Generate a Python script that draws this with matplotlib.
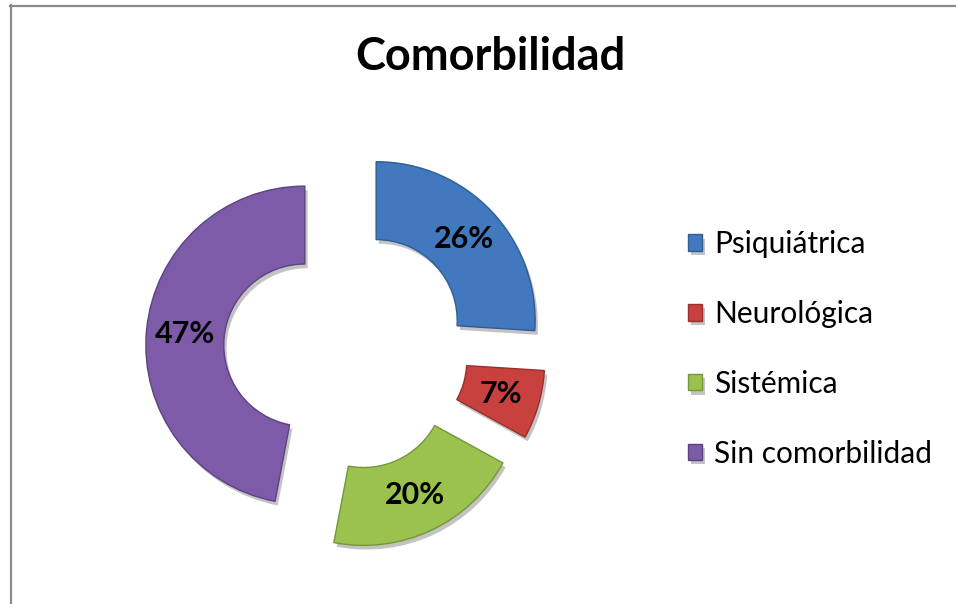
import matplotlib.pyplot as plt
import matplotlib.patheffects as pe
from matplotlib.lines import Line2D

categories = ["Psiquiátrica", "Neurológica", "Sistémica", "Sin comorbilidad"]
values = [26, 7, 20, 47]
colors = ["#4278bd", "#c8413e", "#9bc24f", "#7d5ba8"]
edges = ["#2f5d96", "#98302d", "#76963a", "#5d4282"]

plt.rcParams['font.family'] = ['Lato', 'DejaVu Sans']

W, H = 956, 604
fig = plt.figure(figsize=(W / 100, H / 100), dpi=100)

# pie centre and radius in pixels
cx, cy, R = 346, 349, 159
ax = fig.add_axes([0, 0, 1, 1])

wedges, texts, autotexts = ax.pie(
    values, colors=colors, startangle=90, counterclock=False,
    explode=[0.26] * len(values), radius=1,
    autopct='%1.0f%%', pctdistance=0.755,
    wedgeprops=dict(width=0.49, linewidth=1.0),
    textprops=dict(fontsize=22, fontweight='bold', color='black'))

for w, ec in zip(wedges, edges):
    w.set_edgecolor(ec)
    w.set_path_effects([pe.SimplePatchShadow(offset=(2, -3), alpha=0.35, shadow_rgbFace='#555555'),
                        pe.Normal()])

ax.set_xlim(-cx / R, (W - cx) / R)
ax.set_ylim(-(H - cy) / R, cy / R)
ax.axis('off')

fig.text(490 / W, 1 - 57 / H, "Comorbilidad", ha='center', va='center',
         fontsize=32.5, fontweight='bold')

leg = ax.legend(wedges, categories, loc='center left',
                bbox_to_anchor=(688 / W, 1 - 349 / H), bbox_transform=fig.transFigure,
                frameon=False, fontsize=21.5, handlelength=0.47, handleheight=0.47,
                handletextpad=0.4, labelspacing=1.4, borderpad=0, borderaxespad=0)

# partial border
fig.add_artist(Line2D([10.5 / W, 10.5 / W], [0, 1 - 5 / H], color='#8a8a8a', lw=1.6))
fig.add_artist(Line2D([10 / W, 1], [1 - 5.5 / H, 1 - 5.5 / H], color='#8a8a8a', lw=1.6))

fig.savefig('out.png', dpi=100)
